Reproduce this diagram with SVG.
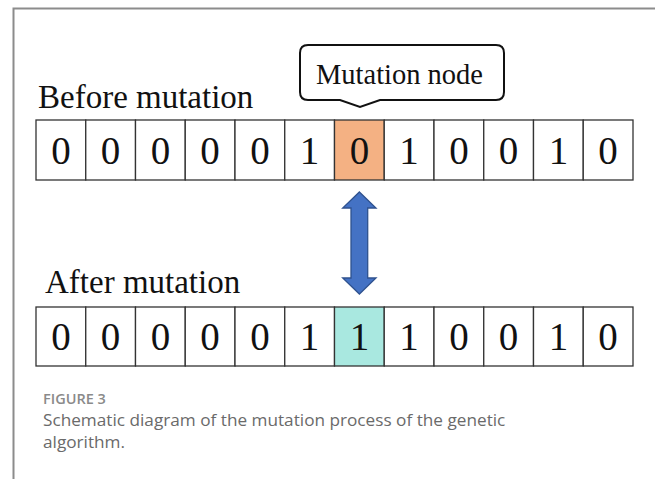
<svg xmlns="http://www.w3.org/2000/svg" width="655" height="479" viewBox="0 0 655 479">
<style>
.cell{fill:#ffffff;stroke:#333333;stroke-width:1.3}
.dig{font-family:"Liberation Serif",serif;font-size:39px;fill:#111;text-anchor:middle}
.lbl{font-family:"Liberation Serif",serif;font-size:33px;fill:#111}
.cap1{font-family:"Open Sans",sans-serif;font-size:14.5px;font-weight:600;fill:#8a8a8a}
.cap2{font-family:"Open Sans",sans-serif;font-size:17.2px;fill:#6a6a6a}
</style>
<rect width="655" height="479" fill="#ffffff"/>
<path d="M13.5 479 V8.5 H655" fill="none" stroke="#8c8c8c" stroke-width="2"/>
<g id="before-label"><text class="lbl" x="38" y="108">Before mutation</text></g>
<g id="after-label"><text class="lbl" x="45" y="293">After mutation</text></g>
<g id="callout">
<path d="M308 45 H496 Q504 45 504 53 V92 Q504 100 496 100 H380 L360 107 L340 100 H308 Q300 100 300 92 V53 Q300 45 308 45 Z" fill="#ffffff" stroke="#111" stroke-width="2"/>
<text x="316" y="84" font-family="Liberation Serif,serif" font-size="28.5px" fill="#111">Mutation node</text>
</g>
<g id="before-row">
<rect class="cell" x="36" y="120" width="49.75" height="60"/>
<rect class="cell" x="85.75" y="120" width="49.75" height="60"/>
<rect class="cell" x="135.5" y="120" width="49.75" height="60"/>
<rect class="cell" x="185.25" y="120" width="49.75" height="60"/>
<rect class="cell" x="235" y="120" width="49.75" height="60"/>
<rect class="cell" x="284.75" y="120" width="49.75" height="60"/>
<rect class="cell" x="334.5" y="120" width="49.75" height="60" style="fill:#f4b183"/>
<rect class="cell" x="384.25" y="120" width="49.75" height="60"/>
<rect class="cell" x="434" y="120" width="49.75" height="60"/>
<rect class="cell" x="483.75" y="120" width="49.75" height="60"/>
<rect class="cell" x="533.5" y="120" width="49.75" height="60"/>
<rect class="cell" x="583.25" y="120" width="49.75" height="60"/>
<text class="dig" x="60.9" y="164">0</text>
<text class="dig" x="110.6" y="164">0</text>
<text class="dig" x="160.4" y="164">0</text>
<text class="dig" x="210.1" y="164">0</text>
<text class="dig" x="259.9" y="164">0</text>
<text class="dig" x="309.6" y="164">1</text>
<text class="dig" x="359.4" y="164">0</text>
<text class="dig" x="409.1" y="164">1</text>
<text class="dig" x="458.9" y="164">0</text>
<text class="dig" x="508.6" y="164">0</text>
<text class="dig" x="558.4" y="164">1</text>
<text class="dig" x="608.1" y="164">0</text>
</g>
<g id="after-row">
<rect class="cell" x="36" y="307" width="49.75" height="59"/>
<rect class="cell" x="85.75" y="307" width="49.75" height="59"/>
<rect class="cell" x="135.5" y="307" width="49.75" height="59"/>
<rect class="cell" x="185.25" y="307" width="49.75" height="59"/>
<rect class="cell" x="235" y="307" width="49.75" height="59"/>
<rect class="cell" x="284.75" y="307" width="49.75" height="59"/>
<rect class="cell" x="334.5" y="307" width="49.75" height="59" style="fill:#a9e8e0"/>
<rect class="cell" x="384.25" y="307" width="49.75" height="59"/>
<rect class="cell" x="434" y="307" width="49.75" height="59"/>
<rect class="cell" x="483.75" y="307" width="49.75" height="59"/>
<rect class="cell" x="533.5" y="307" width="49.75" height="59"/>
<rect class="cell" x="583.25" y="307" width="49.75" height="59"/>
<text class="dig" x="60.9" y="350">0</text>
<text class="dig" x="110.6" y="350">0</text>
<text class="dig" x="160.4" y="350">0</text>
<text class="dig" x="210.1" y="350">0</text>
<text class="dig" x="259.9" y="350">0</text>
<text class="dig" x="309.6" y="350">1</text>
<text class="dig" x="359.4" y="350">1</text>
<text class="dig" x="409.1" y="350">1</text>
<text class="dig" x="458.9" y="350">0</text>
<text class="dig" x="508.6" y="350">0</text>
<text class="dig" x="558.4" y="350">1</text>
<text class="dig" x="608.1" y="350">0</text>
</g>
<g id="connectors">
<path d="M359.4 192 L376 208 H367.7 V278 H376 L359.4 294 L342.7 278 H351 V208 H342.7 Z" fill="#4472c4" stroke="#2f528f" stroke-width="1.3"/>
</g>
<g id="caption">
<text class="cap1" x="43" y="404">FIGURE 3</text>
<text class="cap2" x="43" y="426">Schematic diagram of the mutation process of the genetic</text>
<text class="cap2" x="43" y="448">algorithm.</text>
</g>
</svg>
